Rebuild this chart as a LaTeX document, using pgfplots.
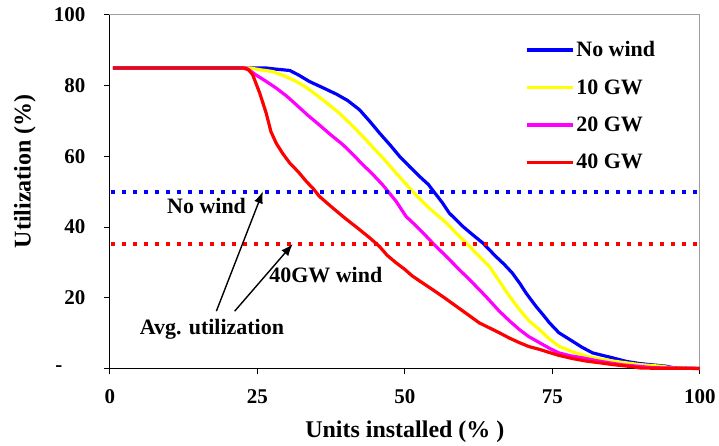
\documentclass[border=0pt]{standalone}
\usepackage{fontspec}
\setmainfont{Liberation Serif}
\usepackage{pgfplots}
\pgfplotsset{compat=1.18}
\usetikzlibrary{arrows.meta}
\definecolor{cblue}{RGB}{0,0,255}
\definecolor{cyellow}{RGB}{255,255,0}
\definecolor{cmag}{RGB}{255,0,255}
\definecolor{cred}{RGB}{255,0,0}
\begin{document}
\begin{tikzpicture}
\begin{axis}[
  scale only axis, width=591pt, height=354pt,
  xmin=0, xmax=100, ymin=0, ymax=100,
  clip=false,
  axis line style={draw=gray!75, line width=1pt},
  tick align=outside, tick pos=left,
  major tick length=6pt,
  tick style={black, line width=1pt},
  xtick={0,25,50,75,100}, xticklabels={0,25,50,75,100},
  ytick={0,20,40,60,80,100}, yticklabels={-\rule{23pt}{0pt},20,40,60,80,100},
  ticklabel style={font=\fontsize{21}{21}\selectfont\bfseries},
  xticklabel style={yshift=-12pt},
  yticklabel style={xshift=-15pt},
  xlabel={Units installed (\% )},
  ylabel={Utilization (\%)},
  label style={font=\fontsize{24}{24}\selectfont\bfseries},
  xlabel style={at={(axis description cs:0.5,-0.178)}, anchor=center},
  ylabel style={at={(axis description cs:-0.144,0.558)}, anchor=center},
  legend style={at={(axis description cs:0.703,0.931)}, anchor=north west, draw=none, fill=none,
    font=\fontsize{22}{22}\selectfont\bfseries, row sep=17.3pt, inner sep=0pt, nodes={inner sep=2pt}},
  legend cell align=left,
  legend image code/.code={\draw[#1, line width=3.6pt] (0pt,0pt) -- (46pt,0pt);},
]
\draw[black, line width=1.2pt] (rel axis cs:0,1) -- (rel axis cs:0,0) -- (rel axis cs:1,0);
\addplot[cblue, line width=3.2pt, line join=round] coordinates {
(0.5,85) (22,85) (26.5,85) (28,84.7) (30.5,84.3) (32,83) (33.8,81.2) (36,79.5) (38.4,77.6) (40.3,75.8) (42.3,73.2) (44,70) (45.7,66.6) (47.5,63.2) (49.1,60) (50.8,57.1) (52.5,54.3) (54,52) (55,49.8) (56.3,47) (57.5,44) (59.8,40.2) (61.5,37.8) (63.2,35.5) (65.4,31.7) (66.8,29.5) (68.2,27.0) (69.5,24) (70.5,21.4) (72.2,17.6) (73.5,15) (74.5,12.9) (76.1,10.1) (78.4,7.7) (80,6) (81.8,4.4) (85.2,3.0) (87.5,2.0) (89.7,1.4) (92,1) (94.2,0.65) (95.5,0.2) (100,0)};
\addlegendentry{No wind}
\addplot[cyellow, line width=3.2pt, line join=round] coordinates {
(22.3,85) (23.7,85) (25.5,84.5) (27.6,84.0) (29.5,82.8) (31.6,81.2) (33.3,79.5) (35,77.4) (37,74.8) (38.9,72.2) (40.9,69) (42.9,65.6) (44.6,62.5) (46.3,59.5) (48.5,55.3) (50.8,51.0) (52.5,48) (54.1,45.4) (57,41.2) (58.7,38.3) (60.4,35.5) (62.3,32.2) (64.3,28.9) (66,24.7) (67.7,20.5) (69.4,16.7) (71,13.5) (72.8,11) (74.5,8.3) (76.1,6.3) (78.4,4.7) (80.7,3.5) (83,2.7) (85.2,2.1) (89.7,1.1) (93.6,0.6) (95,0.2) (100,0)};
\addlegendentry{10 GW}
\addplot[cmag, line width=3.2pt, line join=round] coordinates {
(22.3,85) (23.1,85) (24.8,83) (26.5,81.2) (28.2,79.3) (30,77) (31.6,74.6) (33.5,71.7) (35.5,68.9) (37.5,66) (39.5,63.3) (41.2,60.5) (42.9,57.6) (44.5,55) (46.2,52) (48.5,47.3) (50.2,43) (51.6,40.8) (53,38.5) (54.7,35.5) (57,31.7) (59.2,28) (61.5,24.2) (63.7,20.4) (66,16.2) (67.7,13.5) (69.4,11) (71,9) (72.8,7.3) (74.5,5.7) (76.1,4.4) (78,3.6) (80.1,3) (82.5,2.2) (84.6,1.6) (87,1.0) (89.7,0.6) (92,0.2) (100,0)};
\addlegendentry{20 GW}
\addplot[cred, line width=3.2pt, line join=round] coordinates {
(0.5,85) (22.6,85) (23.5,84.5) (24.2,83.1) (24.8,80.5) (25.4,77.9) (26.5,72.2) (27.3,67) (28.2,63.7) (29.3,60.8) (30.5,58.1) (32,55.5) (33.3,52.9) (34.5,50.8) (35.5,48.7) (37.5,45.8) (39.5,43) (41,41) (42,39.7) (44,37) (45.7,34.5) (47,32) (48.5,29.9) (50,28) (51.3,26.1) (53,24.2) (54.7,22.3) (56.7,20) (58.7,17.6) (60.7,15.2) (62.6,12.9) (64.3,11.5) (66,10.1) (67.7,8.6) (69.4,7.3) (71,6.2) (72.8,5.4) (74.5,4.5) (76.1,3.7) (78.4,2.8) (80.7,2.1) (83,1.6) (85.2,1.1) (88.5,0.5) (90,0.1) (100,0)};
\addlegendentry{40 GW}
\addplot[cblue, line width=4pt, dash pattern=on 4pt off 7pt, dash phase=-12pt, forget plot] coordinates {(0,49.8) (100.3,49.8)};
\addplot[cred, line width=4pt, dash pattern=on 4pt off 7pt, dash phase=-12pt, forget plot] coordinates {(0,35.3) (100.3,35.3)};
\node[font=\fontsize{22}{22}\selectfont\bfseries, anchor=base] at (axis cs:16.4,43.7) {No wind};
\node[font=\fontsize{22}{22}\selectfont\bfseries, anchor=base] at (axis cs:36.6,24.2) {40GW wind};
\node[font=\fontsize{22}{22}\selectfont\bfseries, anchor=base] at (axis cs:17.3,9.6) {Avg. utilization};
\draw[black, line width=1.4pt, -{Latex[length=12pt,width=9pt]}] (axis cs:18.05,16.2) -- (axis cs:25.94,50.1);
\draw[black, line width=1.4pt, -{Latex[length=12pt,width=9pt]}] (axis cs:21.15,16.2) -- (axis cs:31.0,35.2);
\end{axis}
\path (current axis.south west) ++(-110pt,-77pt) rectangle ([xshift=18pt,yshift=15pt]current axis.north east);
\end{tikzpicture}
\end{document}
